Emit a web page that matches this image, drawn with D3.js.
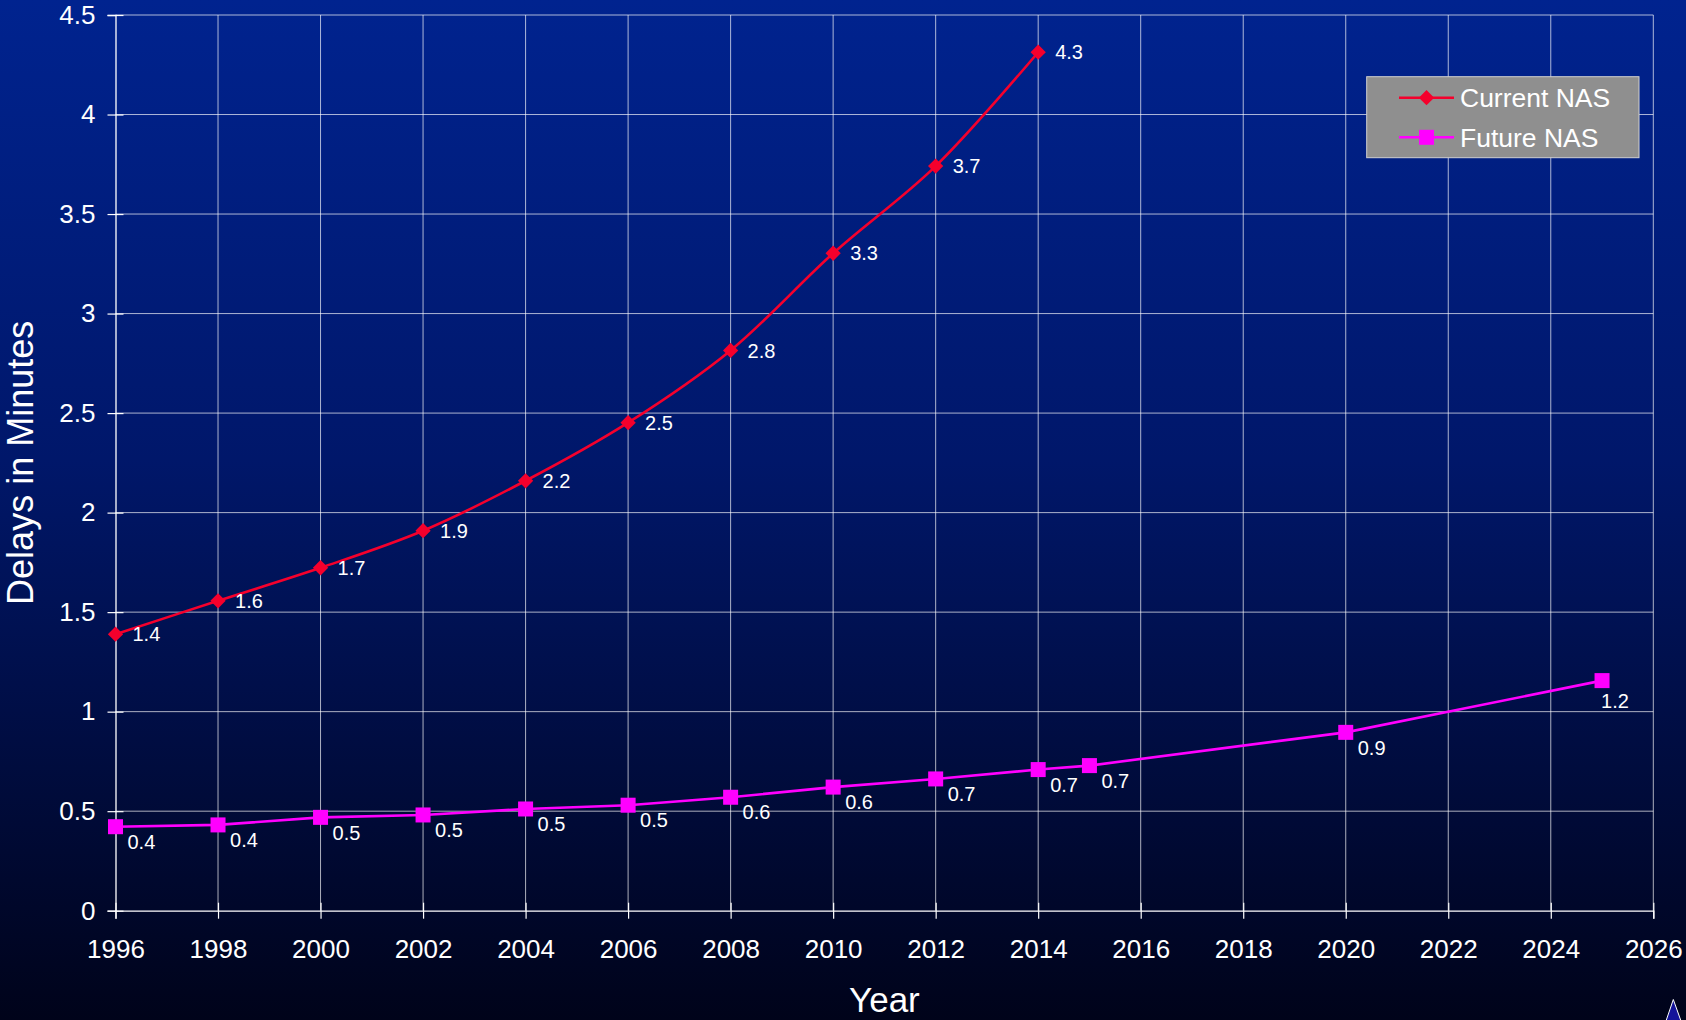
<!DOCTYPE html>
<html>
<head>
<meta charset="utf-8">
<script src="https://cdn.jsdelivr.net/npm/d3@7"></script>
<style>
  html, body { margin: 0; padding: 0; background: #000418; }
  svg { display: block; }
  text { font-family: "Liberation Sans", Arial, Helvetica, sans-serif; fill: #ffffff; }
</style>
</head>
<body>
<svg id="chart" width="1686" height="1020"></svg>
<script>
// Average delay per flight, current vs. modernized airspace system
const currentYears = [1996, 1998, 2000, 2002, 2004, 2006, 2008, 2010, 2012, 2014];
const currentDelay = [1.389, 1.557, 1.723, 1.909, 2.160, 2.452, 2.815, 3.303, 3.741, 4.313];

const futureYears = [1996, 1998, 2000, 2002, 2004, 2006, 2008, 2010, 2012, 2014, 2015, 2020, 2025];
const futureDelay = [0.422, 0.431, 0.469, 0.481, 0.511, 0.530, 0.570, 0.621, 0.662, 0.709, 0.729, 0.896, 1.156];

const seriesNames = ["Current NAS", "Future NAS"];
const xTicks = [1996, 1998, 2000, 2002, 2004, 2006, 2008, 2010, 2012, 2014, 2016, 2018, 2020, 2022, 2024, 2026];
const yTicks = [0, 0.5, 1, 1.5, 2, 2.5, 3, 3.5, 4, 4.5];
const xTitle = "Year";
const yTitle = "Delays in Minutes";

const W = 1686, H = 1020;
const plot = { left: 115.5, top: 15, right: 1653.3, bottom: 910.7 };

const svg = d3.select("#chart");

// background gradient
const defs = svg.append("defs");
const grad = defs.append("linearGradient")
  .attr("id", "bg").attr("x1", 0).attr("y1", 0).attr("x2", 0).attr("y2", 1);
grad.append("stop").attr("offset", "0%").attr("stop-color", "#00238f");
grad.append("stop").attr("offset", "45%").attr("stop-color", "#00176a");
grad.append("stop").attr("offset", "100%").attr("stop-color", "#00031a");
svg.append("rect").attr("width", W).attr("height", H).attr("fill", "url(#bg)");

const x = d3.scaleLinear().domain([1996, 2026]).range([plot.left, plot.right]);
const y = d3.scaleLinear().domain([0, 4.5]).range([plot.bottom, plot.top]);

// gridlines
const grid = svg.append("g").attr("class", "grid");
grid.selectAll("line.h").data(yTicks.filter(d => d > 0)).join("line")
  .attr("x1", plot.left).attr("x2", plot.right)
  .attr("y1", d => y(d)).attr("y2", d => y(d))
  .attr("stroke", "#ffffff").attr("stroke-opacity", 0.68).attr("stroke-width", 1);
grid.selectAll("line.v").data(xTicks.filter(d => d > 1996)).join("line")
  .attr("x1", d => x(d)).attr("x2", d => x(d))
  .attr("y1", plot.top).attr("y2", plot.bottom)
  .attr("stroke", "#ffffff").attr("stroke-opacity", 0.68).attr("stroke-width", 1);

// axes
const yAxis = svg.append("g")
  .attr("transform", `translate(${plot.left},0)`)
  .call(d3.axisLeft(y).tickValues(yTicks).tickSize(8).tickPadding(12).tickFormat(d3.format("")));
const xAxis = svg.append("g")
  .attr("transform", `translate(0,${plot.bottom})`)
  .call(d3.axisBottom(x).tickValues(xTicks).tickSize(8).tickPadding(21).tickFormat(d3.format("d")));

[yAxis, xAxis].forEach(g => {
  g.select(".domain").attr("stroke", "#ffffff").attr("stroke-width", 1.3);
  g.selectAll(".tick line").attr("stroke", "#ffffff").attr("stroke-width", 1.2);
  g.selectAll(".tick text").attr("font-size", 26).attr("fill", "#ffffff")
    .style("font-family", '"Liberation Sans", Arial, sans-serif');
});
// ticks cross the axis line
yAxis.selectAll(".tick line").attr("x1", 8);
xAxis.selectAll(".tick line").attr("y1", -8);

// axis titles
svg.append("text")
  .attr("transform", `translate(33,${(plot.top + plot.bottom) / 2}) rotate(-90)`)
  .attr("text-anchor", "middle")
  .attr("font-size", 36)
  .text(yTitle);
svg.append("text")
  .attr("x", (plot.left + plot.right) / 2).attr("y", 1012)
  .attr("text-anchor", "middle")
  .attr("font-size", 35)
  .text(xTitle);

const fmt = d3.format(".1f");
const currentColor = "#f5002c";
const futureColor = "#ff00ff";

const current = currentYears.map((yr, i) => ({ year: yr, value: currentDelay[i] }));
const future = futureYears.map((yr, i) => ({ year: yr, value: futureDelay[i] }));

// Current NAS: smoothed line with diamonds
svg.append("path")
  .datum(current)
  .attr("fill", "none").attr("stroke", currentColor).attr("stroke-width", 2.6)
  .attr("d", d3.line().x(d => x(d.year)).y(d => y(d.value)).curve(d3.curveCatmullRom.alpha(0.5)));
svg.append("g").selectAll("path").data(current).join("path")
  .attr("transform", d => `translate(${x(d.year)},${y(d.value)}) rotate(45)`)
  .attr("d", "M-5.4,-5.4H5.4V5.4H-5.4Z")
  .attr("fill", currentColor);
svg.append("g").selectAll("text").data(current).join("text")
  .attr("x", d => x(d.year) + 17)
  .attr("y", d => y(d.value))
  .attr("dy", "0.36em")
  .attr("font-size", 20)
  .text(d => fmt(d.value));

// Future NAS: line with squares
svg.append("path")
  .datum(future)
  .attr("fill", "none").attr("stroke", futureColor).attr("stroke-width", 2.6)
  .attr("d", d3.line().x(d => x(d.year)).y(d => y(d.value)));
svg.append("g").selectAll("rect").data(future).join("rect")
  .attr("x", d => x(d.year) - 7.5).attr("y", d => y(d.value) - 7.5)
  .attr("width", 15).attr("height", 15)
  .attr("fill", futureColor);
// the last label sits straight under its marker, the rest below-right
svg.append("g").selectAll("text").data(future).join("text")
  .attr("x", (d, i) => i === future.length - 1 ? x(d.year) - 1 : x(d.year) + 12)
  .attr("y", (d, i) => y(d.value) + (i === future.length - 1 ? 20 : 15))
  .attr("dy", "0.36em")
  .attr("font-size", 20)
  .text(d => fmt(d.value));

// legend
const legend = svg.append("g").attr("transform", "translate(1366.7,76.7)");
legend.append("rect").attr("width", 272.3).attr("height", 81)
  .attr("fill", "#8f8f8f").attr("stroke", "#d0d0d0").attr("stroke-width", 1);
const rows = [
  { name: seriesNames[0], color: currentColor, shape: "diamond", cy: 21 },
  { name: seriesNames[1], color: futureColor, shape: "square", cy: 60.6 }
];
rows.forEach(r => {
  legend.append("line")
    .attr("x1", 32.3).attr("x2", 87.3).attr("y1", r.cy).attr("y2", r.cy)
    .attr("stroke", r.color).attr("stroke-width", 2.6);
  if (r.shape === "diamond") {
    legend.append("path")
      .attr("transform", `translate(59.8,${r.cy}) rotate(45)`)
      .attr("d", "M-5.4,-5.4H5.4V5.4H-5.4Z").attr("fill", r.color);
  } else {
    legend.append("rect")
      .attr("x", 59.8 - 7.5).attr("y", r.cy - 7.5).attr("width", 15).attr("height", 15)
      .attr("fill", r.color);
  }
  legend.append("text")
    .attr("x", 93.3).attr("y", r.cy).attr("dy", "0.36em")
    .attr("font-size", 26.5)
    .text(r.name);
});

// corner emblem
svg.append("path")
  .attr("d", "M1666,1021L1673.3,999.5L1681,1021Z")
  .attr("fill", "#14149a").attr("stroke", "#ffffff").attr("stroke-width", 1);
</script>
</body>
</html>
